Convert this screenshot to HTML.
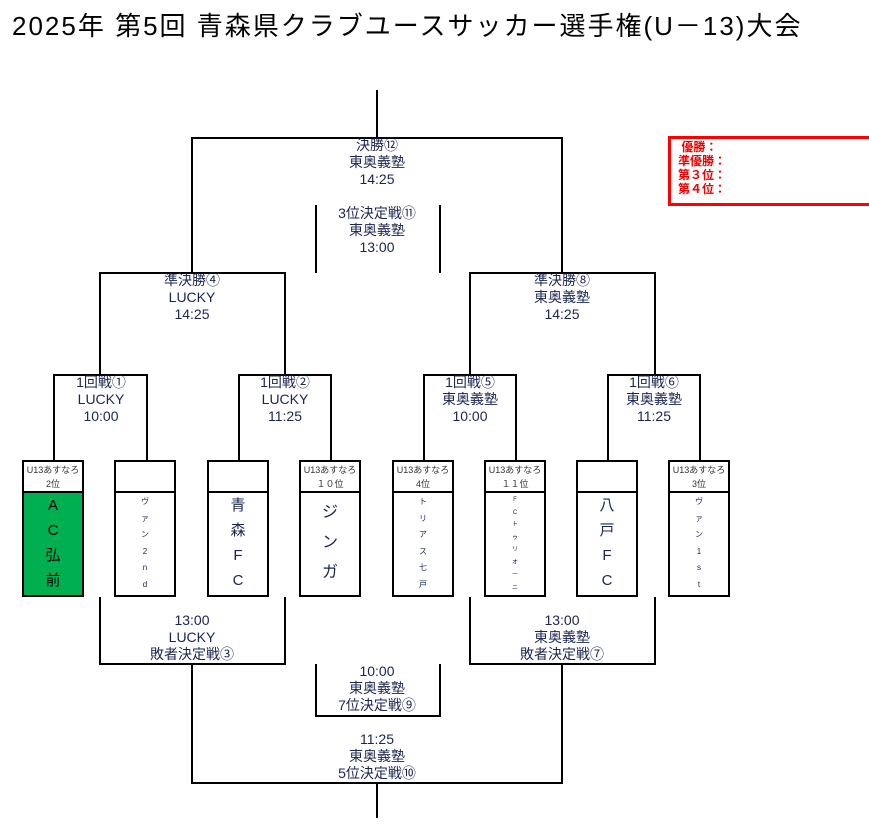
<!DOCTYPE html>
<html><head><meta charset="utf-8"><style>
body{margin:0;width:869px;height:837px;background:#fff;position:relative;overflow:hidden;font-family:"Liberation Sans","Noto Sans CJK JP",sans-serif;}
.t{position:absolute;text-align:center;font-size:14px;line-height:17px;color:#1a2550;width:160px;}
.box{position:absolute;width:58px;height:133px;border:2px solid #000;top:460px;box-sizing:content-box;overflow:hidden}
.hd{height:31px;border-bottom:2px solid #000;font-size:9px;line-height:14px;text-align:center;color:#333;padding-top:1px;box-sizing:border-box}
.nm{text-align:center;color:#1a2550;}
.big{font-size:15px;line-height:25px;padding-top:0;height:102px}
.sm{font-size:8px;line-height:16.5px;padding-top:1px}
</style></head><body>
<div style="position:absolute;left:12px;top:6px;font-size:26px;letter-spacing:2px;color:#000;white-space:nowrap">2025年 第5回 青森県クラブユースサッカー選手権(U－13)大会</div>
<svg width="869" height="837" style="position:absolute;left:0;top:0" fill="none" stroke="#000" stroke-width="2">
<path d="M377 90V138M192 273V138H562V273M100 375V273H285V375M470 375V273H655V375M316 205V273M440 205V273"/>
<path d="M54 461V375H147V461M239 461V375H331V461M424 461V375H516V461M608 461V375H700V461"/>
<path d="M100 597V664H285V597M470 597V664H655V597M316 664V716H440V664M192 664V783H562V664M377 783V818"/>
</svg>
<div style="position:absolute;left:668px;top:136px;width:210px;height:70px;border:3px solid #f00;border-right:none;color:#e00;font-weight:bold;font-size:12px;line-height:14px;padding:1px 0 0 7px;box-sizing:border-box">&nbsp;優勝：<br>準優勝：<br>第３位：<br>第４位：</div>
<div class="t" style="left:297px;top:137px">決勝⑫<br>東奥義塾<br>14:25</div>
<div class="t" style="left:297px;top:205px">3位決定戦⑪<br>東奥義塾<br>13:00</div>
<div class="t" style="left:112px;top:272px">準決勝④<br>LUCKY<br>14:25</div>
<div class="t" style="left:482px;top:272px">準決勝⑧<br>東奥義塾<br>14:25</div>
<div class="t" style="left:21px;top:374px">1回戦①<br>LUCKY<br>10:00</div>
<div class="t" style="left:205px;top:374px">1回戦②<br>LUCKY<br>11:25</div>
<div class="t" style="left:390px;top:374px">1回戦⑤<br>東奥義塾<br>10:00</div>
<div class="t" style="left:574px;top:374px">1回戦⑥<br>東奥義塾<br>11:25</div>
<div class="t" style="left:112px;top:612px">13:00<br>LUCKY<br>敗者決定戦③</div>
<div class="t" style="left:482px;top:612px">13:00<br>東奥義塾<br>敗者決定戦⑦</div>
<div class="t" style="left:297px;top:663px">10:00<br>東奥義塾<br>7位決定戦⑨</div>
<div class="t" style="left:297px;top:731px">11:25<br>東奥義塾<br>5位決定戦⑩</div>

<div class="box" style="left:22px"><div class="hd">U13あすなろ<br>2位</div><div class="nm big" style="background:#00b050;color:#000">A<br>C<br>弘<br>前</div></div>
<div class="box" style="left:114px"><div class="hd"></div><div class="nm sm">ヴ<br>ァ<br>ン<br>2<br>n<br>d</div></div>
<div class="box" style="left:207px"><div class="hd"></div><div class="nm big">青<br>森<br>F<br>C</div></div>
<div class="box" style="left:299px"><div class="hd">U13あすなろ<br>１０位</div><div class="nm" style="font-size:16px;line-height:30px;padding-top:5px">ジ<br>ン<br>ガ</div></div>
<div class="box" style="left:392px"><div class="hd">U13あすなろ<br>4位</div><div class="nm sm">ト<br>リ<br>ア<br>ス<br>七<br>戸</div></div>
<div class="box" style="left:484px"><div class="hd">U13あすなろ<br>１１位</div><div class="nm" style="font-size:6px;line-height:12.5px;padding-top:1px">F<br>C<br>ト<br>ゥ<br>リ<br>オ<br>ー<br>ニ</div></div>
<div class="box" style="left:576px"><div class="hd"></div><div class="nm big">八<br>戸<br>F<br>C</div></div>
<div class="box" style="left:668px"><div class="hd">U13あすなろ<br>3位</div><div class="nm sm">ヴ<br>ァ<br>ン<br>1<br>s<br>t</div></div>
</body></html>
